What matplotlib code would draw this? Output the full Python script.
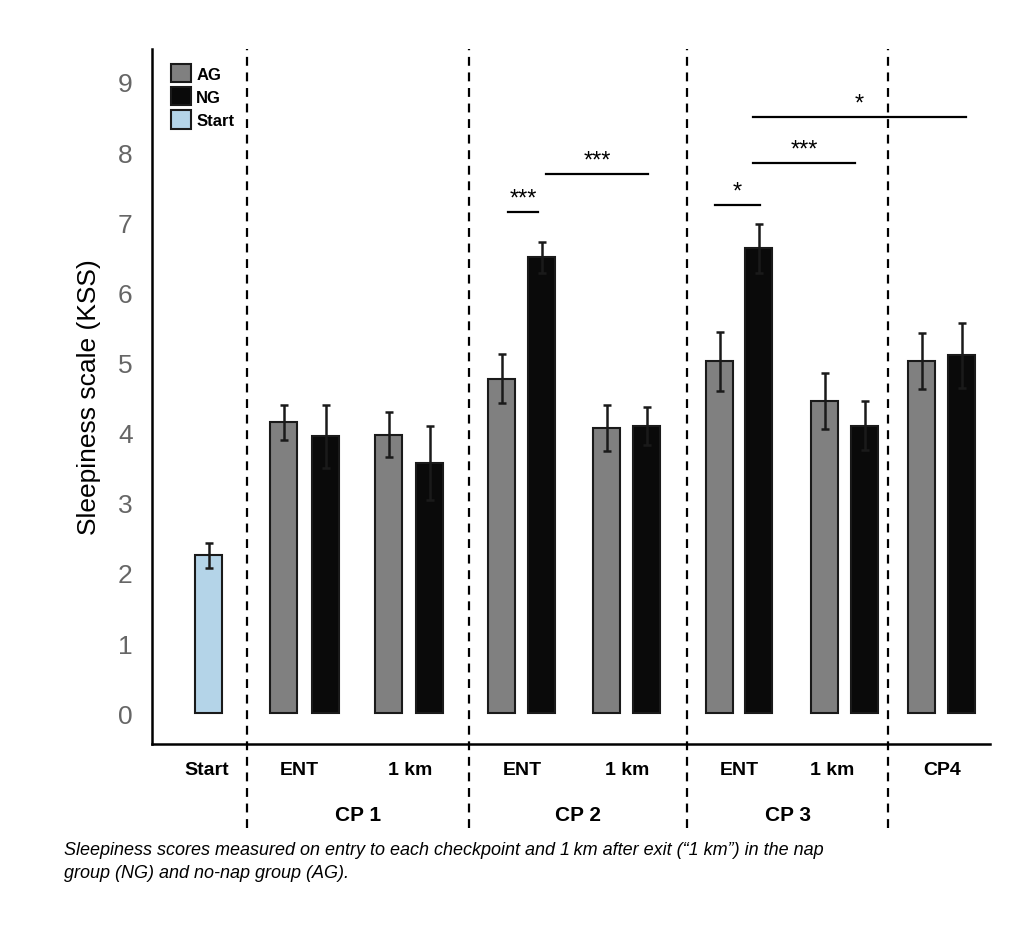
import matplotlib.pyplot as plt
from matplotlib.patches import Patch

plt.rcParams['font.family'] = ['Liberation Sans', 'DejaVu Sans']

# bar data
labels = ["Start", "CP1 ENT AG", "CP1 ENT NG", "CP1 1km AG", "CP1 1km NG",
          "CP2 ENT AG", "CP2 ENT NG", "CP2 1km AG", "CP2 1km NG",
          "CP3 ENT AG", "CP3 ENT NG", "CP3 1km AG", "CP3 1km NG",
          "CP4 AG", "CP4 NG"]
means = [2.25, 4.15, 3.95, 3.97, 3.57, 4.77, 6.50, 4.07, 4.10,
         5.02, 6.63, 4.45, 4.10, 5.02, 5.10]
errors = [0.18, 0.25, 0.45, 0.32, 0.53, 0.35, 0.22, 0.33, 0.27,
          0.42, 0.35, 0.40, 0.35, 0.40, 0.47]
groups = ["Start", "AG", "NG", "AG", "NG", "AG", "NG", "AG", "NG",
          "AG", "NG", "AG", "NG", "AG", "NG"]
sub_labels = ["Start", "ENT", "1 km", "ENT", "1 km", "ENT", "1 km", "CP4"]
cp_labels = ["CP 1", "CP 2", "CP 3"]
# significance: (x from, x to, y, stars)
sig = [(508, 538, 7.15, "***"), (546, 648, 7.69, "***"),
       (715, 760, 7.25, "*"), (753, 855, 7.85, "***"), (753, 966, 8.50, "*")]

# layout (x in figure pixel units)
xpos = [209, 284, 326, 389, 430, 502, 542, 607, 647, 720, 759, 825, 865, 922, 962]
sub_x = [207, 299, 410, 522, 627, 739, 832, 942]
cp_x = [358, 578, 788]
dividers = [247, 469, 687, 888]
colors = {"Start": "#b4d4e8", "AG": "#808080", "NG": "#0a0a0a"}

fig = plt.figure(figsize=(10.34, 9.28), dpi=100)
ax = fig.add_axes([152 / 1034, (928 - 745) / 928, (990 - 152) / 1034, (745 - 50) / 928])
ax.bar(xpos, means, width=27, color=[colors[g] for g in groups],
       edgecolor="#1a1a1a", linewidth=1.5, zorder=2)
ax.errorbar(xpos, means, yerr=errors, fmt="none", ecolor="#1a1a1a",
            elinewidth=1.8, capsize=3, capthick=1.8, zorder=3)
ax.set_xlim(152, 990)
ax.set_ylim(-0.44, 9.47)
ax.set_yticks(range(10))
ax.tick_params(axis="y", length=0, labelsize=19, labelcolor="#666666", pad=14)
ax.set_xticks([])
for s in ["top", "right"]:
    ax.spines[s].set_visible(False)
ax.spines["left"].set_linewidth(1.8)
ax.spines["bottom"].set_linewidth(1.8)
ax.set_ylabel("Sleepiness scale (KSS)", fontsize=19, labelpad=12)

for d in dividers:
    ax.plot([d, d], [-1.64, 9.47], ls=(0, (4, 3)), color="black", lw=1.6,
            clip_on=False, zorder=1)

for x0, x1, y, s in sig:
    ax.plot([x0, x1], [y, y], color="black", lw=1.6)
    ax.text((x0 + x1) / 2, y + 0.03, s, ha="center", va="bottom", fontsize=17)

for x, t in zip(sub_x, sub_labels):
    ax.text(x, -0.8, t, ha="center", va="center", fontsize=14, fontweight="bold")
for x, t in zip(cp_x, cp_labels):
    ax.text(x, -1.45, t, ha="center", va="center", fontsize=15, fontweight="bold")

handles = [Patch(facecolor=colors[k], edgecolor="#1a1a1a", linewidth=1.5, label=k)
           for k in ["AG", "NG", "Start"]]
leg = ax.legend(handles=handles, loc="upper left", bbox_to_anchor=(0.005, 1.0),
                frameon=False, handlelength=1.2, handleheight=1.3,
                handletextpad=0.3, labelspacing=0.3,
                prop={"weight": "bold", "size": 12})

fig.text(64 / 1034, 1 - 862 / 928,
         "Sleepiness scores measured on entry to each checkpoint and 1\u2009km after exit (\u201c1 km\u201d) in the nap\n"
         "group (NG) and no-nap group (AG).",
         ha="left", va="center", fontsize=13, style="italic", linespacing=1.5)

fig.savefig("out.png", dpi=100)
